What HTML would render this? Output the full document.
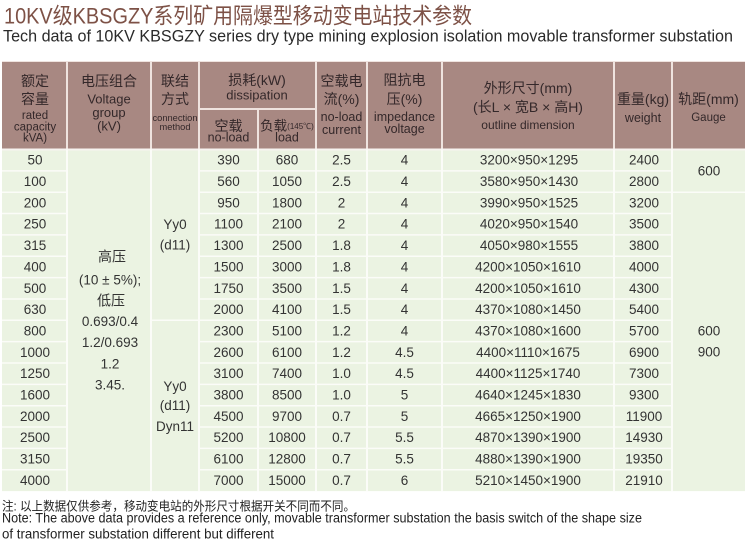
<!DOCTYPE html>
<html><head><meta charset="utf-8">
<style>
html,body{margin:0;padding:0;background:#fff;}
svg{display:block;}
text{font-family:"Liberation Sans","Noto Sans CJK SC",sans-serif;}
</style></head>
<body>
<svg width="750" height="548" viewBox="0 0 750 548" xmlns="http://www.w3.org/2000/svg">
<!-- Titles -->
<text x="4" y="23.5" font-size="22" fill="#7d5146" textLength="468" lengthAdjust="spacingAndGlyphs">10KV级KBSGZY系列矿用隔爆型移动变电站技术参数</text>
<text x="3" y="41.7" font-size="16.5" fill="#2a2a2a" textLength="730" lengthAdjust="spacingAndGlyphs">Tech data of 10KV KBSGZY series dry type mining explosion isolation movable transformer substation</text>

<!-- Table backgrounds -->
<rect x="2" y="61" width="743" height="88.5" fill="#a88882"/>
<rect x="2" y="149.5" width="743" height="341.6" fill="#ebf3e2"/>

<!-- Header lines -->
<g stroke="#efe3df" stroke-width="2">
<line x1="2" y1="61.5" x2="745" y2="61.5" stroke-width="1"/>
<line x1="67" y1="61" x2="67" y2="149.5"/>
<line x1="151" y1="61" x2="151" y2="149.5"/>
<line x1="199" y1="61" x2="199" y2="149.5"/>
<line x1="316" y1="61" x2="316" y2="149.5"/>
<line x1="367" y1="61" x2="367" y2="149.5"/>
<line x1="442" y1="61" x2="442" y2="149.5"/>
<line x1="614" y1="61" x2="614" y2="149.5"/>
<line x1="672" y1="61" x2="672" y2="149.5"/>
<line x1="199" y1="109" x2="316" y2="109"/>
<line x1="258" y1="109" x2="258" y2="149.5"/>
</g>
<line x1="2" y1="149.5" x2="745" y2="149.5" stroke="#f7f3f0" stroke-width="2"/>

<!-- Body lines -->
<g stroke="#fbfcf8" stroke-width="2">
<line x1="67" y1="149.5" x2="67" y2="491"/>
<line x1="151" y1="149.5" x2="151" y2="491"/>
<line x1="199" y1="149.5" x2="199" y2="491"/>
<line x1="258" y1="149.5" x2="258" y2="491"/>
<line x1="316" y1="149.5" x2="316" y2="491"/>
<line x1="367" y1="149.5" x2="367" y2="491"/>
<line x1="442" y1="149.5" x2="442" y2="491"/>
<line x1="614" y1="149.5" x2="614" y2="491"/>
<line x1="672" y1="149.5" x2="672" y2="491"/>
</g>
<g stroke="#fbfcf8" stroke-width="1.5">
<path d="M2 170.85H67M199 170.85H672
M2 192.2H67M199 192.2H745
M2 213.55H67M199 213.55H672
M2 234.9H67M199 234.9H672
M2 256.25H67M199 256.25H672
M2 277.6H67M199 277.6H672
M2 298.95H67M199 298.95H672
M2 320.3H67M151 320.3H672
M2 341.65H67M199 341.65H672
M2 363H67M199 363H672
M2 384.35H67M199 384.35H672
M2 405.7H67M199 405.7H672
M2 427.05H67M199 427.05H672
M2 448.4H67M199 448.4H672
M2 469.75H67M199 469.75H672"/>
</g>

<!-- Header text -->
<g fill="#34282a" text-anchor="middle" dominant-baseline="central">
<text x="35" y="81" font-size="14">额定</text>
<text x="35" y="99" font-size="14">容量</text>
<text x="35" y="116" font-size="11.5">rated</text>
<text x="35" y="127.5" font-size="11.5">capacity</text>
<text x="35" y="138.5" font-size="11.5">kVA)</text>

<text x="109" y="81" font-size="14">电压组合</text>
<text x="109" y="99" font-size="13">Voltage</text>
<text x="109" y="112.5" font-size="13">group</text>
<text x="109" y="126" font-size="13">(kV)</text>

<text x="175" y="81" font-size="14">联结</text>
<text x="175" y="99" font-size="14">方式</text>
<text x="175" y="118" font-size="9.3">connection</text>
<text x="175" y="127" font-size="9.3">method</text>

<text x="257" y="80" font-size="14">损耗(kW)</text>
<text x="257" y="95" font-size="13">dissipation</text>
<text x="228.5" y="126" font-size="14">空载</text>
<text x="228.5" y="137.5" font-size="12.5">no-load</text>
<text x="287" y="126" font-size="13.5">负载<tspan font-size="8">(145℃)</tspan></text>
<text x="287" y="137.5" font-size="12.5">load</text>

<text x="341.5" y="81" font-size="14">空载电</text>
<text x="341.5" y="99" font-size="14">流(%)</text>
<text x="341.5" y="117" font-size="12.5">no-load</text>
<text x="341.5" y="130" font-size="12.5">current</text>

<text x="404.5" y="80" font-size="14">阻抗电</text>
<text x="404.5" y="99" font-size="14">压(%)</text>
<text x="404.5" y="117" font-size="12.5">impedance</text>
<text x="404.5" y="129" font-size="12.5">voltage</text>

<text x="528" y="88" font-size="14">外形尺寸(mm)</text>
<text x="528" y="107" font-size="14">(长L × 宽B × 高H)</text>
<text x="528" y="125" font-size="12">outline dimension</text>

<text x="643" y="99" font-size="14">重量(kg)</text>
<text x="643" y="118" font-size="12.5">weight</text>

<text x="708.5" y="99" font-size="14">轨距(mm)</text>
<text x="708.5" y="118" font-size="11.5">Gauge</text>
</g>

<!-- Body text -->
<g fill="#333" font-size="13.5" text-anchor="middle" dominant-baseline="central">
<!-- col1 -->
<text x="35" y="160.2">50</text>
<text x="35" y="181.5">100</text>
<text x="35" y="202.9">200</text>
<text x="35" y="224.2">250</text>
<text x="35" y="245.6">315</text>
<text x="35" y="266.9">400</text>
<text x="35" y="288.3">500</text>
<text x="35" y="309.6">630</text>
<text x="35" y="331">800</text>
<text x="35" y="352.3">1000</text>
<text x="35" y="373.7">1250</text>
<text x="35" y="395">1600</text>
<text x="35" y="416.4">2000</text>
<text x="35" y="437.7">2500</text>
<text x="35" y="459.1">3150</text>
<text x="35" y="480.4">4000</text>

<!-- voltage group -->
<text x="112" y="256.7" font-size="14">高压</text>
<text x="110" y="280">(10 ± 5%);</text>
<text x="111" y="300.7" font-size="14">低压</text>
<text x="110" y="321.7">0.693/0.4</text>
<text x="110" y="342.7">1.2/0.693</text>
<text x="110" y="364">1.2</text>
<text x="110" y="385">3.45.</text>

<!-- connection -->
<text x="175" y="224.3">Yy0</text>
<text x="175" y="245">(d11)</text>
<text x="175" y="386.7">Yy0</text>
<text x="175" y="405.7">(d11)</text>
<text x="175" y="426.7">Dyn11</text>

<!-- no-load loss -->
<text x="228.5" y="160.2">390</text>
<text x="228.5" y="181.5">560</text>
<text x="228.5" y="202.9">950</text>
<text x="228.5" y="224.2">1100</text>
<text x="228.5" y="245.6">1300</text>
<text x="228.5" y="266.9">1500</text>
<text x="228.5" y="288.3">1750</text>
<text x="228.5" y="309.6">2000</text>
<text x="228.5" y="331">2300</text>
<text x="228.5" y="352.3">2600</text>
<text x="228.5" y="373.7">3100</text>
<text x="228.5" y="395">3800</text>
<text x="228.5" y="416.4">4500</text>
<text x="228.5" y="437.7">5200</text>
<text x="228.5" y="459.1">6100</text>
<text x="228.5" y="480.4">7000</text>

<!-- load loss -->
<text x="287" y="160.2">680</text>
<text x="287" y="181.5">1050</text>
<text x="287" y="202.9">1800</text>
<text x="287" y="224.2">2100</text>
<text x="287" y="245.6">2500</text>
<text x="287" y="266.9">3000</text>
<text x="287" y="288.3">3500</text>
<text x="287" y="309.6">4100</text>
<text x="287" y="331">5100</text>
<text x="287" y="352.3">6100</text>
<text x="287" y="373.7">7400</text>
<text x="287" y="395">8500</text>
<text x="287" y="416.4">9700</text>
<text x="287" y="437.7">10800</text>
<text x="287" y="459.1">12800</text>
<text x="287" y="480.4">15000</text>

<!-- current -->
<text x="341.5" y="160.2">2.5</text>
<text x="341.5" y="181.5">2.5</text>
<text x="341.5" y="202.9">2</text>
<text x="341.5" y="224.2">2</text>
<text x="341.5" y="245.6">1.8</text>
<text x="341.5" y="266.9">1.8</text>
<text x="341.5" y="288.3">1.5</text>
<text x="341.5" y="309.6">1.5</text>
<text x="341.5" y="331">1.2</text>
<text x="341.5" y="352.3">1.2</text>
<text x="341.5" y="373.7">1.0</text>
<text x="341.5" y="395">1.0</text>
<text x="341.5" y="416.4">0.7</text>
<text x="341.5" y="437.7">0.7</text>
<text x="341.5" y="459.1">0.7</text>
<text x="341.5" y="480.4">0.7</text>

<!-- impedance -->
<text x="404.5" y="160.2">4</text>
<text x="404.5" y="181.5">4</text>
<text x="404.5" y="202.9">4</text>
<text x="404.5" y="224.2">4</text>
<text x="404.5" y="245.6">4</text>
<text x="404.5" y="266.9">4</text>
<text x="404.5" y="288.3">4</text>
<text x="404.5" y="309.6">4</text>
<text x="404.5" y="331">4</text>
<text x="404.5" y="352.3">4.5</text>
<text x="404.5" y="373.7">4.5</text>
<text x="404.5" y="395">5</text>
<text x="404.5" y="416.4">5</text>
<text x="404.5" y="437.7">5.5</text>
<text x="404.5" y="459.1">5.5</text>
<text x="404.5" y="480.4">6</text>

<!-- dimensions -->
<text x="529" y="160.2">3200×950×1295</text>
<text x="529" y="181.5">3580×950×1430</text>
<text x="529" y="202.9">3990×950×1525</text>
<text x="529" y="224.2">4020×950×1540</text>
<text x="529" y="245.6">4050×980×1555</text>
<text x="528" y="266.9">4200×1050×1610</text>
<text x="528" y="288.3">4200×1050×1610</text>
<text x="528" y="309.6">4370×1080×1450</text>
<text x="528" y="331">4370×1080×1600</text>
<text x="528" y="352.3">4400×1110×1675</text>
<text x="528" y="373.7">4400×1125×1740</text>
<text x="528" y="395">4640×1245×1830</text>
<text x="528" y="416.4">4665×1250×1900</text>
<text x="528" y="437.7">4870×1390×1900</text>
<text x="528" y="459.1">4880×1390×1900</text>
<text x="528" y="480.4">5210×1450×1900</text>

<!-- weight -->
<text x="644" y="160.2">2400</text>
<text x="644" y="181.5">2800</text>
<text x="644" y="202.9">3200</text>
<text x="644" y="224.2">3500</text>
<text x="644" y="245.6">3800</text>
<text x="644" y="266.9">4000</text>
<text x="644" y="288.3">4300</text>
<text x="644" y="309.6">5400</text>
<text x="644" y="331">5700</text>
<text x="644" y="352.3">6900</text>
<text x="644" y="373.7">7300</text>
<text x="644" y="395">9300</text>
<text x="644" y="416.4">11900</text>
<text x="644" y="437.7">14930</text>
<text x="644" y="459.1">19350</text>
<text x="644" y="480.4">21910</text>

<!-- gauge -->
<text x="709" y="171">600</text>
<text x="709" y="331">600</text>
<text x="709" y="352">900</text>
</g>

<!-- Notes -->
<g fill="#222">
<text x="2" y="510.5" font-size="12.5" textLength="353" lengthAdjust="spacingAndGlyphs">注: 以上数据仅供参考，移动变电站的外形尺寸根据开关不同而不同。</text>
<text x="2" y="522.5" font-size="13.5" textLength="640" lengthAdjust="spacingAndGlyphs">Note: The above data provides a reference only, movable transformer substation the basis switch of the shape size</text>
<text x="2" y="538.3" font-size="13.5" textLength="272" lengthAdjust="spacingAndGlyphs">of transformer substation different but different</text>
</g>
</svg>
</body></html>
